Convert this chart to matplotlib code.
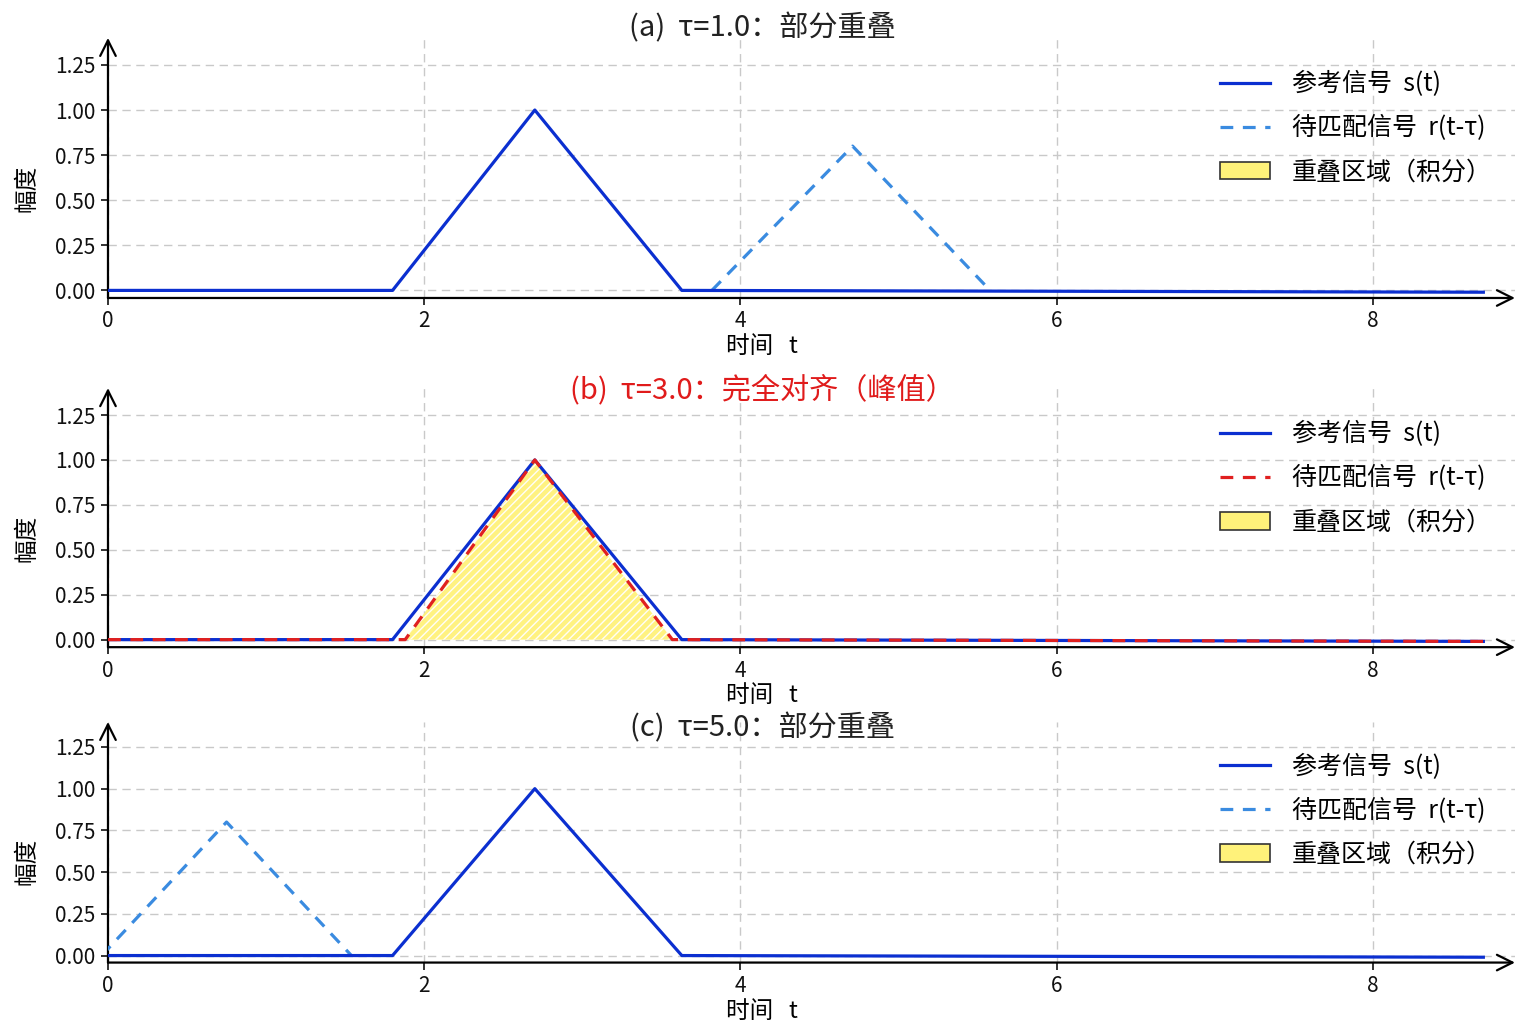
import matplotlib
matplotlib.use("Agg")
import matplotlib.pyplot as plt
from matplotlib.patches import Patch
from matplotlib.lines import Line2D

plt.rcParams['font.family'] = ['Noto Sans CJK SC', 'DejaVu Sans']
plt.rcParams['axes.unicode_minus'] = False

# reference signal s(t): vertices
s_t = [0.0, 1.80, 2.70, 3.63, 8.70]
s_v = [0.0, 0.0, 1.0, 0.0, -0.01]

# shifted signal r(t - tau) for each panel
r_a_t = [3.82, 4.71, 5.58]
r_a_v = [0.0, 0.80, 0.0]
r_b_t = [0.0, 1.88, 2.70, 3.57, 8.70]
r_b_v = [0.0, 0.0, 1.0, 0.0, -0.01]
r_c_t = [-0.04, 0.75, 1.54]
r_c_v = [0.0, 0.80, 0.0]

# overlap area (only panel b)
ov_t = [1.88, 2.70, 3.57]
ov_v = [0.0, 1.0, 0.0]

titles = ["(a)  τ=1.0：部分重叠", "(b)  τ=3.0：完全对齐（峰值）", "(c)  τ=5.0：部分重叠"]
title_colors = ["#222222", "#e01b1b", "#222222"]
x_ticks = [0, 2, 4, 6, 8]
y_ticks = [0.0, 0.25, 0.5, 0.75, 1.0, 1.25]

BLUE = "#0b2fd0"
LIGHT = "#3a8be0"
RED = "#e02020"
YELLOW = "#fff27a"

fig = plt.figure(figsize=(15.36, 10.24), dpi=100)
fig.patch.set_facecolor("white")

# [left, bottom, width, height] of each panel, from top to bottom
boxes = [
    [0.0703, 0.709, 0.916, 0.254],
    [0.0703, 0.368, 0.916, 0.253],
    [0.0703, 0.060, 0.916, 0.235],
]
title_y = [1.038, 0.992, 0.975]

panels = [
    (r_a_t, r_a_v, LIGHT),
    (r_b_t, r_b_v, RED),
    (r_c_t, r_c_v, LIGHT),
]

for i, box in enumerate(boxes):
    ax = fig.add_axes(box)
    ax.set_xlim(0, 8.9)
    ax.set_ylim(-0.042, 1.40)
    for sp in ax.spines.values():
        sp.set_visible(False)

    ax.set_xticks(x_ticks)
    ax.set_yticks(y_ticks)
    ax.set_yticklabels(["%.2f" % v for v in y_ticks])
    ax.tick_params(labelsize=15, length=5, width=1.2, colors="#111111", pad=4)
    ax.grid(True, color="#c9c9c9", linestyle=(0, (6, 4)), linewidth=1.0)
    ax.set_axisbelow(True)

    # axis arrows
    ax.annotate("", xy=(1.0, 0.0), xytext=(0.0, 0.0), xycoords="axes fraction",
                arrowprops=dict(arrowstyle="->", lw=1.6, color="black", mutation_scale=28,
                                shrinkA=0, shrinkB=0))
    ax.annotate("", xy=(0.0, 1.0), xytext=(0.0, 0.0), xycoords="axes fraction",
                arrowprops=dict(arrowstyle="->", lw=1.6, color="black", mutation_scale=28,
                                shrinkA=0, shrinkB=0))

    rt, rv, rc = panels[i]
    if i == 1:
        ax.fill_between(ov_t, ov_v, 0, facecolor=YELLOW, edgecolor="white",
                        linewidth=0, hatch="////", alpha=0.95, zorder=2)
        ax.plot(s_t, s_v, color=BLUE, lw=2.3, zorder=3)
        ax.plot(rt, rv, color=rc, lw=2.3, ls=(0, (4, 3)), zorder=4)
    else:
        ax.plot(rt, rv, color=rc, lw=2.3, ls=(0, (4, 3)), zorder=3)
        ax.plot(s_t, s_v, color=BLUE, lw=2.3, zorder=4)

    ax.text(0.465, title_y[i], titles[i], transform=ax.transAxes, ha="center", va="center",
            fontsize=21, color=title_colors[i])
    ax.set_xlabel("时间   t", fontsize=17, labelpad=2, x=0.465)
    ax.set_ylabel("幅度", fontsize=17, labelpad=12, y=0.42)

    handles = [
        Line2D([], [], color=BLUE, lw=2.3),
        Line2D([], [], color=rc, lw=2.3, ls=(0, (4, 3))),
        Patch(facecolor=YELLOW, edgecolor="#333333", linewidth=1.2),
    ]
    labels = ["参考信号  s(t)", "待匹配信号  r(t-τ)", "重叠区域（积分）"]
    ax.legend(handles, labels, loc="upper left", bbox_to_anchor=(0.783, 0.91),
              frameon=False, fontsize=18, handlelength=2.0, labelspacing=0.72,
              handletextpad=0.9, borderaxespad=0)

fig.savefig("out.png", dpi=100, facecolor="white")
